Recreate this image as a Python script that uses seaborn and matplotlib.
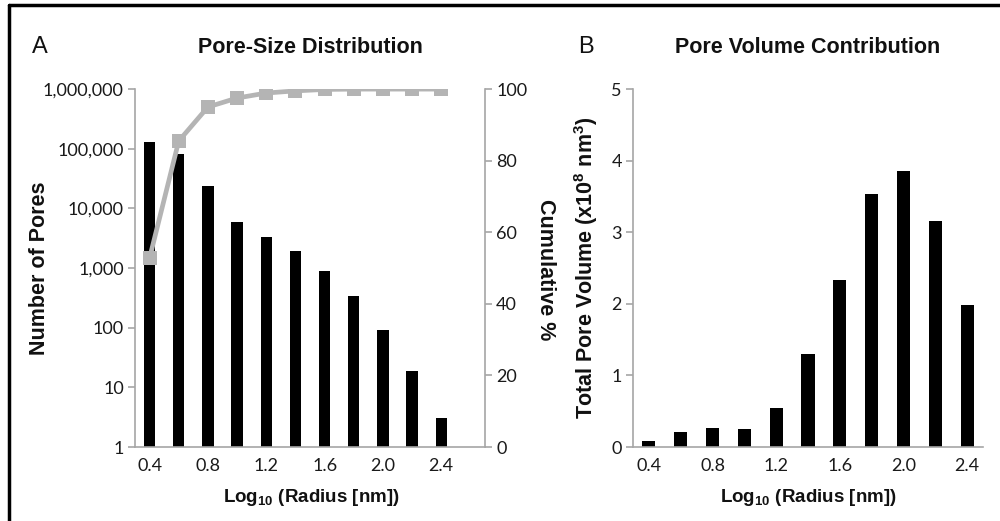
import numpy as np
import pandas as pd
import matplotlib
matplotlib.use("Agg")
import matplotlib.pyplot as plt
import seaborn as sns
from matplotlib.ticker import FuncFormatter, FixedLocator
from matplotlib.lines import Line2D

# ---------------- data ----------------
radius_cats_a = ["0.4", "0.6", "0.8", "1.0", "1.2", "1.4", "1.6", "1.8", "2.0", "2.2", "2.4", "2.6"]
pore_counts = [130000, 81000, 24000, 5900, 3300, 1900, 890, 340, 91, 19, 3.1]
cumulative_pct = [52.8, 85.5, 95.0, 97.5, 98.9, 99.5, 99.9, 100, 100, 100, 100]

radius_cats_b = ["0.4", "0.6", "0.8", "1.0", "1.2", "1.4", "1.6", "1.8", "2.0", "2.2", "2.4"]
pore_volume = [0.09, 0.21, 0.26, 0.25, 0.54, 1.30, 2.34, 3.54, 3.85, 3.16, 1.99]

left_ticks = [1, 10, 100, 1000, 10000, 100000, 1000000]
right_ticks = [0, 20, 40, 60, 80, 100]
vol_ticks = [0, 1, 2, 3, 4, 5]

# ---------------- style ----------------
sns.set_theme(style="white")
plt.rcParams["font.family"] = ["Lato", "DejaVu Sans"]
plt.rcParams["mathtext.fontset"] = "custom"
plt.rcParams["mathtext.rm"] = "Liberation Sans:bold"
plt.rcParams["mathtext.it"] = "Liberation Sans:bold"
plt.rcParams["mathtext.bf"] = "Liberation Sans:bold"

SPINE = "#a6a6a6"
TICKTXT = "#1a1a1a"
LINEC = "#b4b4b4"
BOLD = dict(family="Liberation Sans", weight="bold", color="#111111")
TICKSIZE = 13

fig = plt.figure(figsize=(10, 5.21), dpi=100)
axA = fig.add_axes([0.135, 0.142, 0.350, 0.687])
axB = fig.add_axes([0.633, 0.142, 0.350, 0.687])


def style_cat_axis(ax, n, labels):
    for s in ["top", "right"]:
        ax.spines[s].set_visible(False)
    for s in ["left", "bottom"]:
        ax.spines[s].set_color(SPINE)
        ax.spines[s].set_linewidth(1.2)
    ax.set_xlim(-0.5, n - 0.5)
    ax.xaxis.set_major_locator(FixedLocator(list(range(0, n, 2))))
    ax.set_xticklabels([labels[i] for i in range(0, n, 2)])
    ax.xaxis.set_minor_locator(FixedLocator(list(np.arange(-0.5, n, 1.0))))
    ax.tick_params(axis="x", which="major", length=0, pad=8, labelsize=TICKSIZE, labelcolor=TICKTXT)
    ax.tick_params(axis="x", which="minor", length=5, width=1.2, color=SPINE, direction="out")
    ax.tick_params(axis="y", which="major", length=5, width=1.2, color=SPINE, direction="out",
                   labelsize=TICKSIZE, labelcolor=TICKTXT, pad=3, left=True)
    ax.tick_params(axis="y", which="minor", length=0)
    ax.set_xlabel("")
    ax.set_ylabel("")


# ---------------- Panel A ----------------
dfA = pd.DataFrame({"radius": radius_cats_a[:len(pore_counts)], "count": pore_counts})
axA.set_yscale("log")
sns.barplot(data=dfA, x="radius", y="count", order=radius_cats_a, color="black",
            width=0.39, saturation=1, ax=axA, linewidth=0)
axA.set_ylim(1, 1e6)
axA.yaxis.set_major_locator(FixedLocator(left_ticks))
axA.yaxis.set_major_formatter(FuncFormatter(lambda v, p: f"{int(round(v)):,}"))
style_cat_axis(axA, len(radius_cats_a), radius_cats_a)

axA2 = axA.twinx()
dfC = pd.DataFrame({"pos": np.arange(len(cumulative_pct)), "cum": cumulative_pct})
sns.lineplot(data=dfC, x="pos", y="cum", ax=axA2, color=LINEC, linewidth=3.4,
             marker="s", markersize=10.5, markeredgewidth=0, markerfacecolor=LINEC)
axA2.set_ylim(0, 100)
axA2.set_xlim(-0.5, len(radius_cats_a) - 0.5)
axA2.yaxis.set_major_locator(FixedLocator(right_ticks))
for s in ["top", "left", "bottom"]:
    axA2.spines[s].set_visible(False)
axA2.spines["right"].set_color(SPINE)
axA2.spines["right"].set_linewidth(1.2)
axA2.tick_params(axis="y", length=5, width=1.2, color=SPINE, direction="out",
                 labelsize=TICKSIZE, labelcolor=TICKTXT, pad=3, right=True)
axA2.set_ylabel("")
axA2.set_xlabel("")

# ---------------- Panel B ----------------
dfB = pd.DataFrame({"radius": radius_cats_b, "volume": pore_volume})
sns.barplot(data=dfB, x="radius", y="volume", order=radius_cats_b, color="black",
            width=0.41, saturation=1, ax=axB, linewidth=0)
axB.set_ylim(0, 5)
axB.yaxis.set_major_locator(FixedLocator(vol_ticks))
style_cat_axis(axB, len(radius_cats_b), radius_cats_b)

# ---------------- texts ----------------
def fy(py):
    return 1 - py / 521.0

fig.text(0.040, fy(47), "A", fontsize=17, ha="center", va="center", family="Liberation Sans", color="#111111")
fig.text(0.586, fy(47), "B", fontsize=17, ha="center", va="center", family="Liberation Sans", color="#111111")
fig.text(0.310, fy(47), "Pore-Size Distribution", fontsize=15.5, ha="center", va="center", **BOLD)
fig.text(0.808, fy(47), "Pore Volume Contribution", fontsize=15.5, ha="center", va="center", **BOLD)

fig.text(0.040, fy(268), "Number of Pores", fontsize=15.5, rotation=90, ha="center", va="center", **BOLD)
fig.text(0.545, fy(270), "Cumulative %", fontsize=15.5, rotation=270, ha="center", va="center", **BOLD)
fig.text(0.586, fy(268), r"Total Pore Volume (x10$^{8}$ nm$^{3}$)", fontsize=15.5, rotation=90,
         ha="center", va="center", **BOLD)

fig.text(0.311, fy(498), r"Log$_{10}$ (Radius [nm])", fontsize=13.5, ha="center", va="center", **BOLD)
fig.text(0.808, fy(498), r"Log$_{10}$ (Radius [nm])", fontsize=13.5, ha="center", va="center", **BOLD)

# frame (top and left border lines)
fig.add_artist(Line2D([0.009, 0.009], [0, fy(5)], transform=fig.transFigure, color="black", linewidth=2.5))
fig.add_artist(Line2D([0.009, 1.0], [fy(5), fy(5)], transform=fig.transFigure, color="black", linewidth=2.5))

fig.savefig("out.png", dpi=100, facecolor="white")
